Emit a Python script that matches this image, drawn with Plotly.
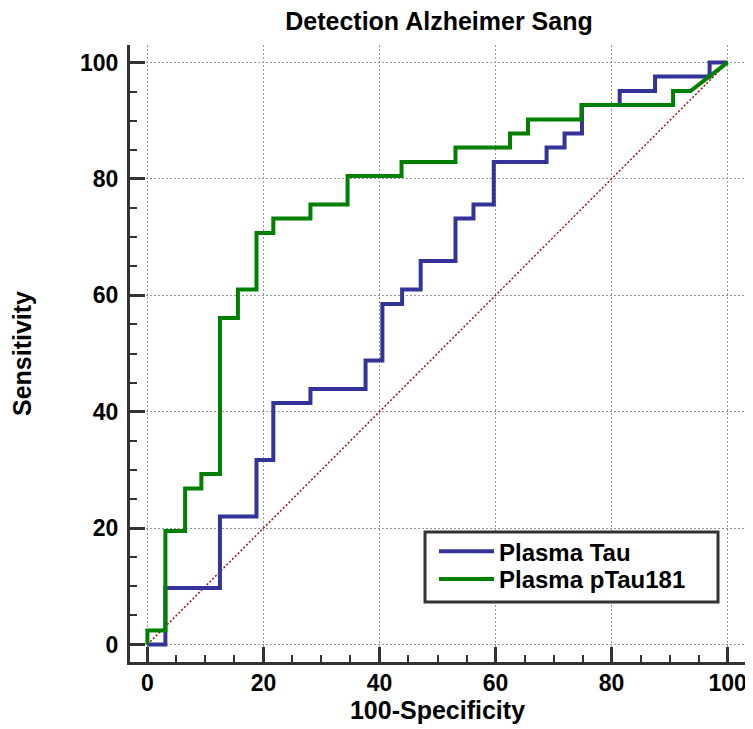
import plotly.graph_objects as go

# Data (corner points of ROC step curves)
tau_x = [0, 3.1, 3.1, 12.5, 12.5, 18.8, 18.8, 21.7, 21.7, 28.1, 28.1, 37.6, 37.6, 40.5, 40.5,
         43.9, 43.9, 47.1, 47.1, 53.1, 53.1, 56.2, 56.2, 59.7, 59.7, 68.8, 68.8, 71.9, 71.9,
         74.9, 74.9, 81.4, 81.4, 87.5, 87.5, 96.9, 96.9, 100]
tau_y = [0, 0, 9.7, 9.7, 22.0, 22.0, 31.7, 31.7, 41.5, 41.5, 43.9, 43.9, 48.8, 48.8, 58.5,
         58.5, 61.0, 61.0, 65.9, 65.9, 73.2, 73.2, 75.6, 75.6, 82.9, 82.9, 85.4, 85.4, 87.8,
         87.8, 92.7, 92.7, 95.1, 95.1, 97.6, 97.6, 100, 100]

ptau_x = [0, 0, 3.1, 3.1, 6.5, 6.5, 9.3, 9.3, 12.5, 12.5, 15.6, 15.6, 18.8, 18.8, 21.7, 21.7,
          28.1, 28.1, 34.5, 34.5, 43.8, 43.8, 53.1, 53.1, 62.5, 62.5, 65.6, 65.6, 74.8, 74.8,
          90.6, 90.6, 93.6, 100]
ptau_y = [0, 2.4, 2.4, 19.5, 19.5, 26.8, 26.8, 29.3, 29.3, 56.1, 56.1, 61.0, 61.0, 70.7, 70.7,
          73.2, 73.2, 75.6, 75.6, 80.5, 80.5, 82.9, 82.9, 85.4, 85.4, 87.8, 87.8, 90.2, 90.2,
          92.7, 92.7, 95.1, 95.1, 100]

diag_x = [0, 100]
diag_y = [0, 100]

tick_vals = [0, 20, 40, 60, 80, 100]
tick_text = ["0", "20", "40", "60", "80", "100"]

FONT = "Liberation Sans, Arial, sans-serif"

fig = go.Figure()
fig.add_trace(go.Scatter(x=diag_x, y=diag_y, mode="lines", showlegend=False,
                         line=dict(color="#a01010", width=1.5, dash="2px,2px"), hoverinfo="skip"))
fig.add_trace(go.Scatter(x=tau_x, y=tau_y, mode="lines", name="Plasma Tau", legend="legend",
                         line=dict(color="#333399", width=4)))
fig.add_trace(go.Scatter(x=ptau_x, y=ptau_y, mode="lines", name="Plasma pTau181", legend="legend2",
                         line=dict(color="#008000", width=4)))

axis_common = dict(
    range=[-3, 103],
    tickvals=tick_vals, ticktext=tick_text,
    showline=True, linecolor="#333333", linewidth=3,
    ticks="inside", ticklen=15, tickwidth=3, tickcolor="#333333",
    showgrid=True, gridcolor="#999999", gridwidth=1, griddash="2px,2px",
    zeroline=False, automargin=False,
    minor=dict(dtick=5, tick0=0, ticks="inside", ticklen=7, tickwidth=2,
               tickcolor="#333333", showgrid=False),
    tickfont=dict(family=FONT, size=23, color="black", weight="bold"),
    mirror=False,
)

fig.update_xaxes(**axis_common, ticklabelstandoff=-2,
                 title=dict(text="100-Specificity", standoff=2,
                            font=dict(family=FONT, size=25, color="black", weight="bold")))
fig.update_yaxes(**axis_common, ticklabelstandoff=4,
                 title=dict(text="Sensitivity", standoff=46,
                            font=dict(family=FONT, size=25, color="black", weight="bold")))

legend_common = dict(
    xanchor="left", yanchor="middle", x=0.4943,
    borderwidth=0, bgcolor="rgba(0,0,0,0)",
    font=dict(family=FONT, size=24, color="black", weight="bold"),
    itemwidth=55,
)

# the page body adds an 8px offset; the figure is sized to fill the rest of the window
fig.update_layout(
    width=745, height=721,
    margin=dict(l=122, r=8, t=37, b=67),
    paper_bgcolor="white", plot_bgcolor="white",
    title=dict(text="Detection Alzheimer Sang", x=0.5785, xanchor="center", y=0.982, yanchor="middle",
               font=dict(family=FONT, size=25, color="black", weight="bold")),
    legend=dict(**legend_common, y=0.1788),
    legend2=dict(**legend_common, y=0.1340),
    showlegend=True,
    shapes=[dict(type="rect", xref="paper", yref="paper",
                 x0=0.4797, x1=0.9561, y0=0.0972, y1=0.2107,
                 line=dict(color="#333333", width=3), fillcolor="white", layer="above")],
)

fig.write_html("out.html")
